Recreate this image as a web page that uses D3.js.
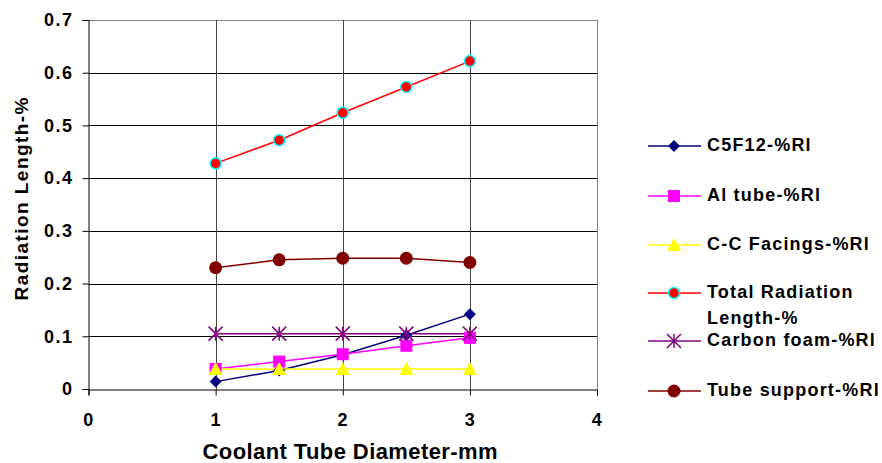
<!DOCTYPE html>
<html>
<head>
<meta charset="utf-8">
<script src="https://cdn.jsdelivr.net/npm/d3@7"></script>
<style>
  body { margin: 0; background: #fff; }
  text { font-family: "Liberation Sans", Arial, sans-serif; font-weight: bold; fill: #000; }
</style>
</head>
<body>
<svg id="chart" width="882" height="463"></svg>
<script>
const xValues = [1, 1.5, 2, 2.5, 3];
const c5f12 = [0.014, 0.035, 0.065, 0.102, 0.142];
const alTube = [0.038, 0.052, 0.066, 0.082, 0.097];
const ccFacings = [0.038, 0.038, 0.038, 0.038, 0.038];
const totalRad = [0.428, 0.472, 0.524, 0.573, 0.622];
const carbonFoam = [0.105, 0.105, 0.105, 0.105, 0.105];
const tubeSupport = [0.230, 0.245, 0.248, 0.248, 0.240];
const xTicks = [0, 1, 2, 3, 4];
const yTicks = [0, 0.1, 0.2, 0.3, 0.4, 0.5, 0.6, 0.7];

const series = [
  { name: ["C5F12-%Rl"], values: c5f12, line: "#000080", marker: "diamond", fill: "#000080", stroke: "#000080" },
  { name: ["Al tube-%Rl"], values: alTube, line: "#ff00ff", marker: "square", fill: "#ff00ff", stroke: "#ff00ff" },
  { name: ["C-C Facings-%Rl"], values: ccFacings, line: "#ffff00", marker: "triangle", fill: "#ffff00", stroke: "#ffff00" },
  { name: ["Total Radiation", "Length-%"], values: totalRad, line: "#ff0000", marker: "circle", fill: "#ff0000", stroke: "#00ffff" },
  { name: ["Carbon foam-%Rl"], values: carbonFoam, line: "#800080", marker: "star", fill: "none", stroke: "#800080" },
  { name: ["Tube support-%Rl"], values: tubeSupport, line: "#800000", marker: "bigcircle", fill: "#800000", stroke: "#800000" }
];

const svg = d3.select("#chart");
const x = d3.scaleLinear().domain([0, 4]).range([88.5, 597]);
const y = d3.scaleLinear().domain([0, 0.7]).range([389, 20]);

// grid
svg.append("g").selectAll("line").data(yTicks.slice(1)).join("line")
  .attr("x1", x(0)).attr("x2", x(4))
  .attr("y1", d => Math.round(y(d)) + 0.5).attr("y2", d => Math.round(y(d)) + 0.5)
  .attr("stroke", d => d === 0.7 ? "#808080" : "#000").attr("stroke-width", 1);
svg.append("g").selectAll("line").data([1, 2, 3]).join("line")
  .attr("x1", d => Math.round(x(d)) + 0.5).attr("x2", d => Math.round(x(d)) + 0.5)
  .attr("y1", y(0.7)).attr("y2", y(0))
  .attr("stroke", "#444");
svg.append("line").attr("x1", 597.5).attr("x2", 597.5).attr("y1", y(0.7)).attr("y2", y(0))
  .attr("stroke", "#808080");

// axes
const yAxis = svg.append("g").attr("transform", "translate(88.5,0)")
  .call(d3.axisLeft(y).tickValues(yTicks).tickFormat(d => d === 0 ? "0" : d3.format(".1f")(d)).tickSize(6).tickPadding(9));
const xAxis = svg.append("g").attr("transform", "translate(0,389.5)")
  .call(d3.axisBottom(x).tickValues(xTicks).tickFormat(d3.format("d")).tickSize(6).tickPadding(18));
[yAxis, xAxis].forEach(a => {
  a.select(".domain").attr("stroke", "#000");
  a.selectAll(".tick line").attr("stroke", "#000");
  a.selectAll("text").attr("font-size", 18).attr("fill", "#000").attr("letter-spacing", 1.5)
    .attr("font-family", "Liberation Sans, Arial, sans-serif").attr("font-weight", "bold");
});

svg.append("text").attr("x", 350).attr("y", 459).attr("text-anchor", "middle")
  .attr("font-size", 22).attr("textLength", 295).text("Coolant Tube Diameter-mm");
svg.append("text").attr("transform", "translate(28,199) rotate(-90)").attr("text-anchor", "middle")
  .attr("font-size", 19).attr("textLength", 203).text("Radiation Length-%");

function drawMarker(g, s, cx, cy) {
  if (s.marker === "diamond") {
    g.append("path").attr("d", `M${cx},${cy - 6}L${cx + 6},${cy}L${cx},${cy + 6}L${cx - 6},${cy}Z`).attr("fill", s.fill);
  } else if (s.marker === "square") {
    g.append("rect").attr("x", cx - 6).attr("y", cy - 6).attr("width", 12).attr("height", 12).attr("fill", s.fill);
  } else if (s.marker === "triangle") {
    g.append("path").attr("d", `M${cx},${cy - 7}L${cx + 7},${cy + 6}L${cx - 7},${cy + 6}Z`).attr("fill", s.fill);
  } else if (s.marker === "circle") {
    g.append("circle").attr("cx", cx).attr("cy", cy).attr("r", 5.5).attr("fill", s.fill)
      .attr("stroke", s.stroke).attr("stroke-width", 1.5);
  } else if (s.marker === "bigcircle") {
    g.append("circle").attr("cx", cx).attr("cy", cy).attr("r", 6.5).attr("fill", s.fill);
  } else if (s.marker === "star") {
    const r = 7;
    g.append("path")
      .attr("d", `M${cx - r},${cy - r}L${cx + r},${cy + r}M${cx - r},${cy + r}L${cx + r},${cy - r}M${cx},${cy - r}L${cx},${cy + r}`)
      .attr("stroke", s.stroke).attr("stroke-width", 1.5).attr("fill", "none");
  }
}

const line = d3.line().x(d => x(d[0])).y(d => y(d[1]));
const plot = svg.append("g");
series.forEach(s => {
  const pts = xValues.map((v, i) => [v, s.values[i]]);
  plot.append("path").datum(pts).attr("d", line).attr("fill", "none")
    .attr("stroke", s.line).attr("stroke-width", 1.5);
});
series.forEach(s => {
  const g = plot.append("g");
  xValues.forEach((v, i) => drawMarker(g, s, x(v), y(s.values[i])));
});

// legend
const legendY = [146, 196, 245, 293, 341, 391];
series.forEach((s, i) => {
  const g = svg.append("g");
  const ly = legendY[i];
  g.append("line").attr("x1", 648).attr("x2", 701).attr("y1", ly).attr("y2", ly)
    .attr("stroke", s.line).attr("stroke-width", 1.5);
  drawMarker(g, s, 674, ly);
  s.name.forEach((t, j) => {
    g.append("text").attr("x", 707).attr("y", ly + 5 + j * 26).attr("font-size", 18)
      .attr("letter-spacing", 1.2).text(t);
  });
});
</script>
</body>
</html>
